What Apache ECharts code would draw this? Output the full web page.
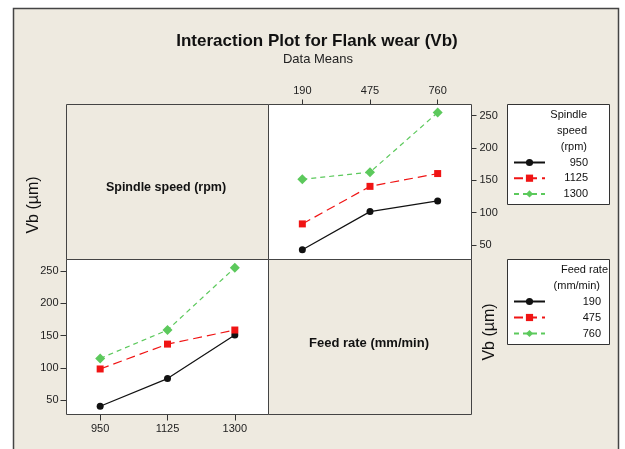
<!DOCTYPE html>
<html>
<head>
<meta charset="utf-8">
<script src="https://cdn.jsdelivr.net/npm/echarts@6/dist/echarts.min.js"></script>
<style>
html,body{margin:0;padding:0;background:#ffffff;}
#chart{width:625px;height:449px;}
</style>
</head>
<body>
<div id="chart"></div>
<script>
// Categories
var feedRates = ['190', '475', '760'];          // mm/min (x of top-right panel)
var spindleSpeeds = ['950', '1125', '1300'];    // rpm (x of bottom-left panel)
var yTicks = [50, 100, 150, 200, 250];

// Top-right panel: Vb vs feed rate, one line per spindle speed
var sp950 = [42.5, 101.5, 118];
var sp1125 = [82.5, 140.5, 160.3];
var sp1300 = [151.5, 162.3, 254.6];

// Bottom-left panel: Vb vs spindle speed, one line per feed rate
var fr190 = [40.7, 83.6, 151];
var fr475 = [98.5, 137, 158.8];
var fr760 = [114.9, 158.8, 255.3];

var BEIGE = '#EEEAE0';
var FONT = '"Liberation Sans", Arial, sans-serif';
var C_BLACK = '#111111', C_RED = '#F01414', C_GREEN = '#5CC95C';

var styles = [
  {color: C_BLACK, symbol: 'circle', size: 7, type: 'solid'},
  {color: C_RED, symbol: 'rect', size: 7, type: [9, 5]},
  {color: C_GREEN, symbol: 'diamond', size: 10, type: [5, 4]}
];

function mkSeries(name, data, idx, axisIdx) {
  var s = styles[idx];
  return {
    name: name, type: 'line', data: data,
    xAxisIndex: axisIdx, yAxisIndex: axisIdx,
    symbol: s.symbol, symbolSize: s.size, showSymbol: true,
    itemStyle: {color: s.color},
    lineStyle: {color: s.color, width: 1.2, type: s.type},
    emphasis: {disabled: true},
    animation: false
  };
}

var axisCommon = {
  axisLine: {show: false},
  axisTick: {show: true, inside: false, length: 5, lineStyle: {color: '#333'}},
  splitLine: {show: false}
};

var chart = echarts.init(document.getElementById('chart'), null, {renderer: 'canvas'});
chart.setOption({
  backgroundColor: '#ffffff',
  animation: false,
  textStyle: {fontFamily: FONT},
  graphic: [
    {type: 'rect', z: -10, shape: {x: 13.5, y: 8.5, width: 605, height: 450},
     style: {fill: BEIGE, stroke: '#444', lineWidth: 1.5}},
    {type: 'rect', z: -5, shape: {x: 66.5, y: 104.5, width: 202, height: 155},
     style: {fill: BEIGE, stroke: '#444', lineWidth: 1}},
    {type: 'rect', z: -5, shape: {x: 268.5, y: 259.5, width: 203, height: 155},
     style: {fill: BEIGE, stroke: '#444', lineWidth: 1}},
    {type: 'text', x: 317, y: 41, style: {text: 'Interaction Plot for Flank wear (Vb)', font: 'bold 17px ' + FONT, fill: '#111', align: 'center', verticalAlign: 'middle'}},
    {type: 'text', x: 318, y: 59.5, style: {text: 'Data Means', font: '13px ' + FONT, fill: '#222', align: 'center', verticalAlign: 'middle'}},
    {type: 'text', x: 166, y: 188, style: {text: 'Spindle speed (rpm)', font: 'bold 12.5px ' + FONT, fill: '#111', align: 'center', verticalAlign: 'middle'}},
    {type: 'text', x: 369, y: 343.5, style: {text: 'Feed rate (mm/min)', font: 'bold 13px ' + FONT, fill: '#111', align: 'center', verticalAlign: 'middle'}},
    {type: 'text', x: 34, y: 205, rotation: Math.PI / 2, style: {text: 'Vb (\u00b5m)', font: '16px ' + FONT, fill: '#111', align: 'center', verticalAlign: 'middle'}},
    {type: 'text', x: 490, y: 332, rotation: Math.PI / 2, style: {text: 'Vb (\u00b5m)', font: '16px ' + FONT, fill: '#111', align: 'center', verticalAlign: 'middle'}},
    // legend boxes
    {type: 'rect', z: -5, shape: {x: 507.5, y: 104.5, width: 102, height: 100},
     style: {fill: '#ffffff', stroke: '#333', lineWidth: 1}},
    {type: 'rect', z: -5, shape: {x: 507.5, y: 259.5, width: 102, height: 85},
     style: {fill: '#ffffff', stroke: '#333', lineWidth: 1}},
    {type: 'text', x: 587, y: 114.5, style: {text: 'Spindle', font: '11px ' + FONT, fill: '#111', align: 'right', verticalAlign: 'middle'}},
    {type: 'text', x: 587, y: 130.5, style: {text: 'speed', font: '11px ' + FONT, fill: '#111', align: 'right', verticalAlign: 'middle'}},
    {type: 'text', x: 587, y: 146.5, style: {text: '(rpm)', font: '11px ' + FONT, fill: '#111', align: 'right', verticalAlign: 'middle'}},
    {type: 'text', x: 608, y: 270, style: {text: 'Feed rate', font: '11px ' + FONT, fill: '#111', align: 'right', verticalAlign: 'middle'}},
    {type: 'text', x: 600, y: 285.5, style: {text: '(mm/min)', font: '11px ' + FONT, fill: '#111', align: 'right', verticalAlign: 'middle'}}
  ],
  legend: [
    {
      data: spindleSpeeds, orient: 'vertical', left: 513, top: 156.5, padding: 0,
      itemWidth: 31, itemHeight: 9, itemGap: 3.7,
      textStyle: {fontSize: 11, lineHeight: 12, color: '#111', fontFamily: FONT,
        rich: {r: {width: 38, align: 'right', fontSize: 11, lineHeight: 12, fontFamily: FONT}}},
      formatter: function (n) { return '{r|' + n + '}'; },
      selectedMode: false
    },
    {
      data: feedRates, orient: 'vertical', left: 513, top: 295.5, padding: 0,
      itemWidth: 31, itemHeight: 9, itemGap: 4,
      textStyle: {fontSize: 11, lineHeight: 12, color: '#111', fontFamily: FONT,
        rich: {r: {width: 51, align: 'right', fontSize: 11, lineHeight: 12, fontFamily: FONT}}},
      formatter: function (n) { return '{r|' + n + '}'; },
      selectedMode: false
    }
  ],
  grid: [
    {left: 268.5, top: 104.5, width: 203, height: 155, show: true, backgroundColor: '#ffffff', borderColor: '#444', borderWidth: 1, z: 1},
    {left: 66.5, top: 259.5, width: 202, height: 155, show: true, backgroundColor: '#ffffff', borderColor: '#444', borderWidth: 1, z: 1}
  ],
  xAxis: [
    Object.assign({}, axisCommon, {
      type: 'category', gridIndex: 0, position: 'top', data: feedRates, boundaryGap: true,
      axisTick: {show: true, alignWithLabel: true, length: 5, lineStyle: {color: '#333'}},
      axisLabel: {fontSize: 11, color: '#222', margin: 8, fontFamily: FONT}
    }),
    Object.assign({}, axisCommon, {
      type: 'category', gridIndex: 1, position: 'bottom', data: spindleSpeeds, boundaryGap: true,
      axisTick: {show: true, alignWithLabel: true, length: 6, lineStyle: {color: '#333'}},
      axisLabel: {fontSize: 11, color: '#222', margin: 9, fontFamily: FONT}
    })
  ],
  yAxis: [
    Object.assign({}, axisCommon, {
      type: 'value', gridIndex: 0, position: 'right', min: 27.5, max: 267,
      axisTick: {show: true, length: 5, lineStyle: {color: '#333'}, customValues: yTicks},
      axisLabel: {fontSize: 11, color: '#222', margin: 8, fontFamily: FONT, customValues: yTicks}
    }),
    Object.assign({}, axisCommon, {
      type: 'value', gridIndex: 1, position: 'left', min: 28, max: 268,
      axisTick: {show: true, length: 6, lineStyle: {color: '#333'}, customValues: yTicks},
      axisLabel: {fontSize: 11, color: '#222', margin: 8, fontFamily: FONT, customValues: yTicks}
    })
  ],
  series: [
    mkSeries('950', sp950, 0, 0),
    mkSeries('1125', sp1125, 1, 0),
    mkSeries('1300', sp1300, 2, 0),
    mkSeries('190', fr190, 0, 1),
    mkSeries('475', fr475, 1, 1),
    mkSeries('760', fr760, 2, 1)
  ]
});
</script>
</body>
</html>
